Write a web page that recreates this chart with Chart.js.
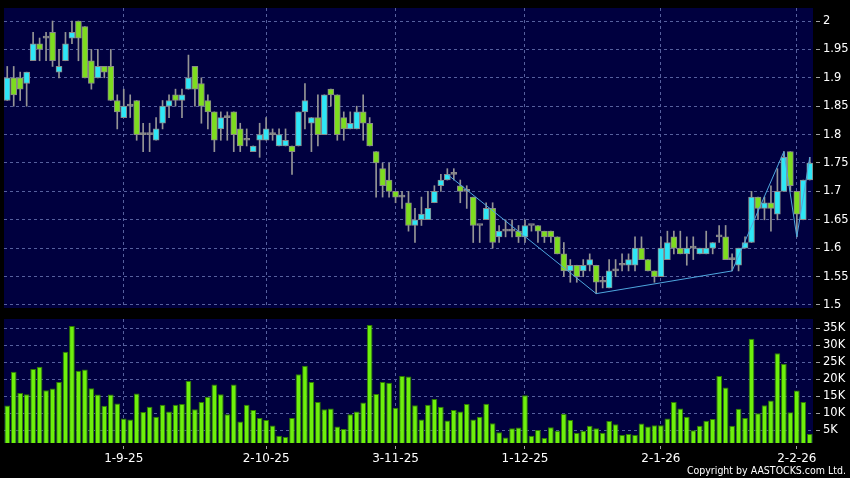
<!DOCTYPE html>
<html>
<head>
<meta charset="utf-8">
<script src="https://cdn.jsdelivr.net/npm/chart.js@4.4.0/dist/chart.umd.min.js"></script>
<style>
html, body { margin: 0; padding: 0; background: #000; }
#wrap { position: relative; width: 850px; height: 478px; overflow: hidden; background: #000; }
#priceChart { position: absolute; left: 0; top: 0; }
#volChart { position: absolute; left: 0; top: 310px; }
#copy {
    position: absolute; right: 4px; top: 464px;
    color: #fff; font-size: 10.5px; line-height: 12px;
    font-family: 'DejaVu Sans Condensed', 'DejaVu Sans', sans-serif; font-stretch: condensed;
    white-space: nowrap;
}
</style>
</head>
<body>
<div id="wrap">
    <canvas id="priceChart" width="850" height="310"></canvas>
    <canvas id="volChart" width="850" height="168"></canvas>
    <div id="copy">Copyright by AASTOCKS.com Ltd.</div>
</div>
<script>
// Trading days (d-m-yy)
const dates = [
    '6-8-25','7-8-25','8-8-25','11-8-25','12-8-25','13-8-25','14-8-25','15-8-25','18-8-25','19-8-25',
    '20-8-25','21-8-25','22-8-25','25-8-25','26-8-25','27-8-25','28-8-25','29-8-25',
    '1-9-25','2-9-25','3-9-25','4-9-25','5-9-25','8-9-25','9-9-25','10-9-25','11-9-25','12-9-25',
    '15-9-25','16-9-25','17-9-25','18-9-25','19-9-25','22-9-25','23-9-25','24-9-25','25-9-25','26-9-25',
    '29-9-25','30-9-25',
    '2-10-25','3-10-25','6-10-25','8-10-25','9-10-25','10-10-25','13-10-25','14-10-25','15-10-25','16-10-25',
    '17-10-25','20-10-25','21-10-25','22-10-25','23-10-25','24-10-25','27-10-25','28-10-25','30-10-25','31-10-25',
    '3-11-25','4-11-25','5-11-25','6-11-25','7-11-25','10-11-25','11-11-25','12-11-25','13-11-25','14-11-25',
    '17-11-25','18-11-25','19-11-25','20-11-25','21-11-25','24-11-25','25-11-25','26-11-25','27-11-25','28-11-25',
    '1-12-25','2-12-25','3-12-25','4-12-25','5-12-25','8-12-25','9-12-25','10-12-25','11-12-25','12-12-25',
    '15-12-25','16-12-25','17-12-25','18-12-25','19-12-25','22-12-25','23-12-25','24-12-25','29-12-25','30-12-25',
    '31-12-25',
    '2-1-26','5-1-26','6-1-26','7-1-26','8-1-26','9-1-26','12-1-26','13-1-26','14-1-26','15-1-26',
    '16-1-26','19-1-26','20-1-26','21-1-26','22-1-26','23-1-26','26-1-26','27-1-26','28-1-26','29-1-26',
    '30-1-26',
    '2-2-26','3-2-26','4-2-26'
];
const tickDates = ['1-9-25', '2-10-25', '3-11-25', '1-12-25', '2-1-26', '2-2-26'];

const open = [
    1.86,1.90,1.90,1.89,1.93,1.96,1.97,1.98,1.91,1.93, 1.97,2.00,1.99,1.93,1.90,1.92,1.92,1.86,1.83,1.85,
    1.86,1.80,1.80,1.79,1.82,1.85,1.87,1.86,1.88,1.92, 1.89,1.86,1.84,1.81,1.83,1.84,1.81,1.79,1.77,1.79,
    1.79,1.80,1.78,1.78,1.78,1.78,1.84,1.82,1.83,1.80, 1.88,1.87,1.83,1.81,1.81,1.84,1.82,1.77,1.74,1.72,
    1.70,1.69,1.68,1.64,1.65,1.65,1.68,1.71,1.72,1.73, 1.71,1.70,1.69,1.64,1.65,1.67,1.62,1.63,1.63,1.63,
    1.62,1.64,1.64,1.63,1.63,1.62,1.59,1.56,1.57,1.56, 1.57,1.57,1.54,1.53,1.56,1.57,1.57,1.57,1.60,1.58,
    1.56,1.55,1.58,1.62,1.60,1.59,1.60,1.59,1.59,1.60, 1.62,1.62,1.58,1.57,1.60,1.61,1.69,1.67,1.68,1.66,
    1.70,1.77,1.70,1.65,1.72
];
const high = [
    1.92,1.92,1.91,1.91,1.98,1.97,1.98,2.00,1.95,1.98, 2.00,2.00,1.99,1.95,1.95,1.92,1.95,1.87,1.88,1.87,
    1.86,1.82,1.82,1.83,1.86,1.87,1.88,1.88,1.94,1.92, 1.90,1.87,1.84,1.84,1.84,1.84,1.82,1.81,1.78,1.82,
    1.83,1.81,1.81,1.81,1.78,1.84,1.89,1.83,1.87,1.87, 1.88,1.87,1.84,1.84,1.85,1.87,1.83,1.77,1.75,1.75,
    1.70,1.70,1.70,1.67,1.69,1.70,1.71,1.73,1.74,1.74, 1.72,1.71,1.69,1.64,1.68,1.68,1.64,1.65,1.65,1.64,
    1.65,1.64,1.64,1.63,1.63,1.62,1.61,1.58,1.57,1.58, 1.59,1.57,1.55,1.58,1.58,1.59,1.59,1.62,1.62,1.58,
    1.56,1.62,1.63,1.63,1.63,1.62,1.62,1.60,1.63,1.61, 1.64,1.64,1.59,1.60,1.62,1.70,1.69,1.69,1.71,1.74,
    1.77,1.77,1.70,1.72,1.76
];
const low = [
    1.86,1.85,1.86,1.85,1.93,1.93,1.93,1.92,1.90,1.93, 1.96,1.93,1.90,1.88,1.90,1.90,1.86,1.81,1.83,1.83,
    1.79,1.77,1.77,1.79,1.81,1.83,1.85,1.83,1.88,1.85, 1.82,1.81,1.77,1.79,1.79,1.77,1.77,1.78,1.77,1.76,
    1.79,1.79,1.78,1.78,1.73,1.78,1.81,1.77,1.78,1.80, 1.85,1.79,1.79,1.81,1.81,1.79,1.78,1.69,1.69,1.69,
    1.68,1.67,1.63,1.61,1.64,1.65,1.68,1.70,1.72,1.72, 1.68,1.67,1.61,1.61,1.65,1.60,1.61,1.62,1.62,1.61,
    1.61,1.63,1.61,1.61,1.61,1.59,1.55,1.54,1.54,1.55, 1.56,1.52,1.53,1.53,1.55,1.56,1.56,1.56,1.58,1.56,
    1.54,1.55,1.58,1.59,1.59,1.57,1.58,1.59,1.59,1.59, 1.61,1.58,1.56,1.56,1.60,1.61,1.65,1.65,1.63,1.65,
    1.70,1.70,1.62,1.65,1.72
];
const close = [
    1.90,1.87,1.88,1.91,1.96,1.95,1.97,1.93,1.92,1.96, 1.98,1.97,1.90,1.89,1.92,1.91,1.86,1.84,1.85,1.85,
    1.80,1.80,1.80,1.81,1.85,1.86,1.86,1.87,1.90,1.88, 1.85,1.84,1.79,1.83,1.83,1.80,1.78,1.79,1.78,1.80,
    1.81,1.80,1.80,1.79,1.77,1.84,1.86,1.83,1.80,1.87, 1.87,1.80,1.81,1.82,1.84,1.82,1.78,1.75,1.71,1.70,
    1.69,1.69,1.64,1.65,1.66,1.67,1.70,1.72,1.73,1.73, 1.70,1.70,1.64,1.64,1.67,1.61,1.63,1.63,1.63,1.62,
    1.64,1.64,1.63,1.62,1.62,1.59,1.56,1.57,1.55,1.57, 1.58,1.54,1.54,1.56,1.56,1.57,1.58,1.60,1.58,1.56,
    1.55,1.60,1.61,1.60,1.59,1.60,1.60,1.60,1.60,1.61, 1.62,1.58,1.58,1.60,1.61,1.69,1.67,1.68,1.67,1.70,
    1.76,1.71,1.66,1.72,1.75
];
// Volume in thousands of shares
const volume = [
    12.3,22.2,16.0,15.6,23.0,23.7,16.8,17.3,19.2,28.1, 35.7,22.5,22.9,17.4,15.5,12.2,15.5,12.9,8.5,8.2,
    15.8,10.4,11.9,9.0,12.5,10.5,12.5,12.7,19.5,11.2, 13.3,14.9,18.5,15.6,9.7,18.5,7.6,12.5,11.0,8.6,
    8.0,6.4,3.4,3.0,8.6,21.5,24.0,19.2,13.3,11.2, 11.4,6.1,5.4,9.7,10.5,13.2,36.0,15.7,19.2,19.0,
    11.6,21.0,20.8,12.4,8.2,12.5,14.2,11.9,7.9,11.0, 10.5,12.7,8.2,9.0,12.8,7.1,4.4,2.9,5.6,5.8,
    15.3,3.4,5.1,2.7,5.9,4.9,9.9,8.0,4.2,4.9, 6.3,5.6,4.3,7.7,6.8,3.6,3.9,3.6,7.0,6.1,
    6.5,6.5,8.5,13.3,11.4,9.0,5.0,6.3,7.8,8.3, 21.0,17.6,6.3,11.3,8.6,31.9,10.0,12.4,13.8,27.7,
    24.6,10.3,16.7,13.3,3.9
];
// ZigZag turning points
const zigIndex = [68, 91, 112, 120, 122, 124];
const zigValue = [1.73, 1.52, 1.56, 1.77, 1.62, 1.76];

const priceTicks = [1.5, 1.55, 1.6, 1.65, 1.7, 1.75, 1.8, 1.85, 1.9, 1.95, 2];
const volTicks = [5, 10, 15, 20, 25, 30, 35];

const upColor = '#2ee6f6';
const downColor = '#7ddc1f';
const flatColor = '#8c8c8c';
const gridColor = '#56609e';
const labelFont = { family: 'DejaVu Sans', size: 11.5 };

const bodies = open.map((o, i) => [o, close[i]]);
const wicks = low.map((l, i) => [l, high[i]]);
const bodyColors = open.map((o, i) => close[i] > o ? upColor : (close[i] < o ? downColor : flatColor));
const zigData = dates.map(() => null);
zigIndex.forEach((idx, k) => { zigData[idx] = zigValue[k]; });

const isTickDate = (ctx) => ctx.tick && tickDates.includes(dates[ctx.tick.value]);

// navy plot background
const plotBg = {
    id: 'plotBg',
    beforeDraw(chart) {
        const { ctx, chartArea: a } = chart;
        ctx.save();
        ctx.fillStyle = '#00003f';
        ctx.fillRect(a.left, a.top, a.right - a.left, a.bottom - a.top);
        ctx.restore();
    }
};

// Candlestick chart
new Chart(document.getElementById('priceChart'), {
    type: 'bar',
    data: {
        labels: dates,
        datasets: [
            {
                label: 'ZigZag',
                type: 'line',
                data: zigData,
                borderColor: '#4ea6de',
                borderWidth: 1,
                pointRadius: 0,
                spanGaps: true,
                order: 0
            },
            {
                label: 'Body',
                data: bodies,
                backgroundColor: bodyColors,
                borderColor: '#8a8a8a',
                borderWidth: 1,
                borderSkipped: false,
                barThickness: 6,
                minBarLength: 2,
                grouped: false,
                order: 1
            },
            {
                label: 'Wick',
                data: wicks,
                backgroundColor: '#959595',
                barThickness: 1,
                grouped: false,
                order: 2
            }
        ]
    },
    options: {
        responsive: false,
        animation: false,
        layout: { padding: { left: 4, top: 8, bottom: 2, right: 0 } },
        plugins: { legend: { display: false }, tooltip: { enabled: false } },
        scales: {
            x: {
                grid: { offset: false, drawTicks: false, color: ctx => isTickDate(ctx) ? gridColor : 'rgba(0,0,0,0)' },
                border: { display: false, dash: [3, 3] },
                ticks: { display: false, autoSkip: false },
                afterFit: s => { s.height = 0; s.paddingLeft = 0; s.paddingRight = 0; }
            },
            y: {
                position: 'right',
                min: 1.4947,
                max: 2.0229,
                afterBuildTicks: s => { s.ticks = priceTicks.map(v => ({ value: v })); },
                afterFit: s => { s.width = 37; s.paddingTop = 0; s.paddingBottom = 0; },
                grid: { color: gridColor, tickLength: 7, tickColor: '#a0a0a0', tickBorderDash: [0, 3, 4, 10] },
                border: { display: false, dash: [3, 3] },
                ticks: {
                    color: '#ffffff',
                    font: labelFont,
                    padding: 3,
                    callback: v => String(+v.toFixed(2))
                }
            }
        }
    },
    plugins: [plotBg]
});

// Volume chart
new Chart(document.getElementById('volChart'), {
    type: 'bar',
    data: {
        labels: dates,
        datasets: [{
            label: 'Volume',
            data: volume,
            backgroundColor: '#6ef00c',
            borderColor: '#2f7d00',
            borderWidth: 1,
            barPercentage: 1,
            categoryPercentage: 0.88
        }]
    },
    options: {
        responsive: false,
        animation: false,
        layout: { padding: { left: 4, top: 9, bottom: 0, right: 0 } },
        plugins: { legend: { display: false }, tooltip: { enabled: false } },
        scales: {
            x: {
                grid: {
                    offset: false,
                    tickLength: 6,
                    tickBorderDash: [0, 3, 3, 10],
                    color: ctx => isTickDate(ctx) ? gridColor : 'rgba(0,0,0,0)',
                    tickColor: ctx => isTickDate(ctx) ? '#a0a0a0' : 'rgba(0,0,0,0)'
                },
                border: { display: false, dash: [3, 3] },
                ticks: {
                    autoSkip: false,
                    maxRotation: 0,
                    color: '#ffffff',
                    font: { family: 'DejaVu Sans', size: 12 },
                    padding: 3,
                    callback: (v, i) => tickDates.includes(dates[i]) ? dates[i] : ''
                },
                afterFit: s => { s.height = 35; }
            },
            y: {
                position: 'right',
                min: 1.26,
                max: 37.74,
                afterBuildTicks: s => { s.ticks = volTicks.map(v => ({ value: v })); },
                afterFit: s => { s.width = 37; s.paddingTop = 0; s.paddingBottom = 0; },
                grid: { color: gridColor, tickLength: 7, tickColor: '#a0a0a0', tickBorderDash: [0, 3, 4, 10] },
                border: { display: false, dash: [3, 3] },
                ticks: {
                    color: '#ffffff',
                    font: labelFont,
                    padding: 3,
                    callback: v => v + 'K'
                }
            }
        }
    },
    plugins: [plotBg]
});
</script>
</body>
</html>
